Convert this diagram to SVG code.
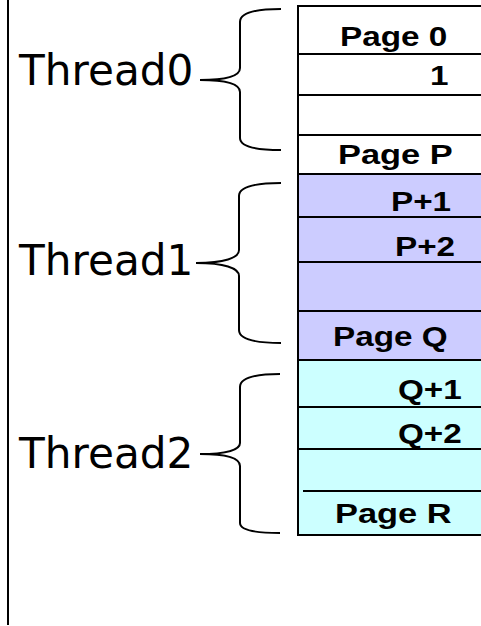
<svg xmlns="http://www.w3.org/2000/svg" width="481" height="626" viewBox="0 0 481 626">
  <style>
    .cell { stroke: #000; stroke-width: 2; }
    .white { fill: #FFFFFF; }
    .purple { fill: #CCCCFF; }
    .cyan { fill: #CCFFFF; }
    .pg { font-family: "Liberation Sans", Arial, sans-serif; font-weight: bold; font-size: 27.5px; fill: #000; }
    .th { font-family: "DejaVu Sans", sans-serif; font-size: 42.2px; fill: #000; }
    .brace { fill: none; stroke: #000; stroke-width: 2; }
    .sep { stroke: #000; stroke-width: 2; }
  </style>
  <rect x="0" y="0" width="481" height="626" fill="#FFFFFF"/>
  <line x1="8" y1="0" x2="8" y2="625" class="sep"/>

  <g id="column">
    <rect x="298" y="6" width="190" height="168" class="cell white"/>
    <rect x="298" y="174" width="190" height="186" class="cell purple"/>
    <rect x="298" y="360" width="190" height="175" class="cell cyan"/>
  </g>

  <g id="page0"><line x1="298" y1="54" x2="481" y2="54" class="sep"/><text class="pg" transform="translate(340,46) scale(1.21,1)">Page 0</text></g>
  <g id="page1"><line x1="298" y1="95" x2="481" y2="95" class="sep"/><text class="pg" transform="translate(430,85) scale(1.21,1)">1</text></g>
  <g id="page-gap0"><line x1="298" y1="135" x2="481" y2="135" class="sep"/></g>
  <g id="pageP"><text class="pg" transform="translate(338,164) scale(1.25,1)">Page P</text></g>

  <g id="pageP1"><line x1="298" y1="217" x2="481" y2="217" class="sep"/><text class="pg" transform="translate(391,211) scale(1.21,1)">P+1</text></g>
  <g id="pageP2"><line x1="298" y1="262" x2="481" y2="262" class="sep"/><text class="pg" transform="translate(395,256) scale(1.21,1)">P+2</text></g>
  <g id="page-gap1"><line x1="298" y1="311" x2="481" y2="311" class="sep"/></g>
  <g id="pageQ"><text class="pg" transform="translate(333,346) scale(1.21,1)">Page Q</text></g>

  <g id="pageQ1"><line x1="298" y1="407" x2="481" y2="407" class="sep"/><text class="pg" transform="translate(398,399) scale(1.21,1)">Q+1</text></g>
  <g id="pageQ2"><line x1="298" y1="449" x2="481" y2="449" class="sep"/><text class="pg" transform="translate(398,443) scale(1.21,1)">Q+2</text></g>
  <g id="page-gap2"><line x1="303" y1="491" x2="481" y2="491" class="sep"/></g>
  <g id="pageR"><text class="pg" transform="translate(335,523) scale(1.25,1)">Page R</text></g>

  <g id="thread0"><text class="th" x="19" y="85">Thread0</text></g>
  <g id="thread1"><text class="th" x="19" y="275">Thread1</text></g>
  <g id="thread2"><text class="th" x="19" y="468">Thread2</text></g>

  <g id="connectors">
    <path class="brace" d="M281,9 C255,9 240,13 240,22 L240,68 C240,76 226,80 200,80 C226,80 240,84 240,92 L240,138 C240,146 255,150 281,150"/>
    <path class="brace" d="M281,183 C255,183 239,187 239,196 L239,250 C239,258 224,263 196,263 C224,263 239,268 239,276 L239,330 C239,339 255,343 281,343"/>
    <path class="brace" d="M280,374 C256,374 240,378 240,387 L240,443 C240,450 226,454 200,454 C226,454 240,458 240,466 L240,523 C240,530 256,533 280,533"/>
  </g>
</svg>
